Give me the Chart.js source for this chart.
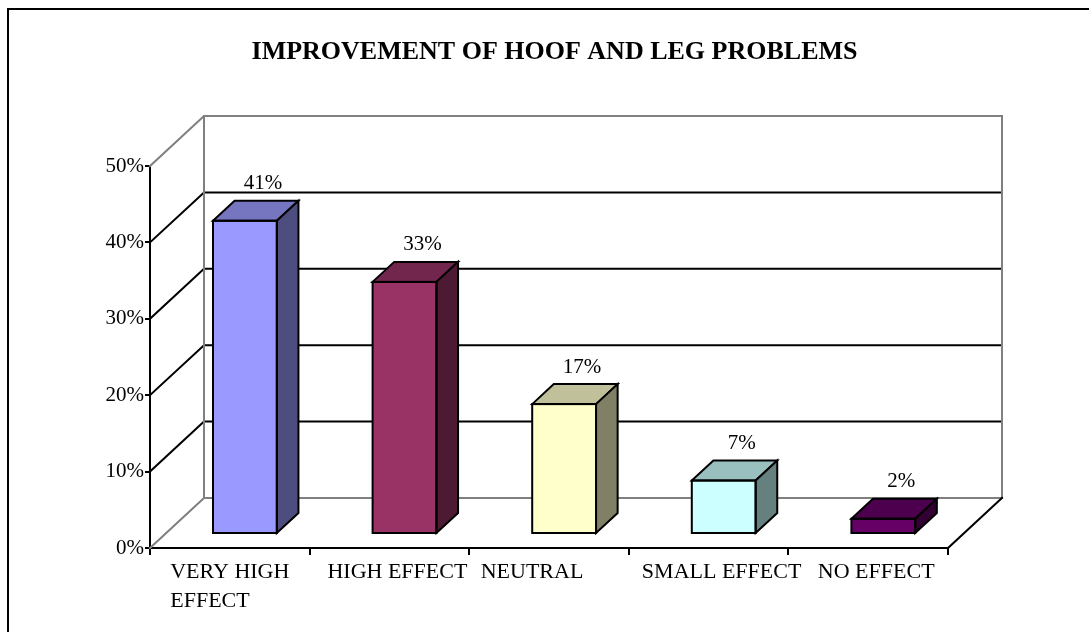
<!DOCTYPE html>
<html>
<head>
<meta charset="utf-8">
<script src="https://cdn.jsdelivr.net/npm/chart.js@4"></script>
<style>
  html, body { margin: 0; padding: 0; background: #fff; }
  #wrap { width: 1089px; height: 632px; position: relative; }
</style>
</head>
<body>
<div id="wrap"><canvas id="chart" width="1089" height="632"></canvas></div>
<script>
// Survey answers and their shares (percent)
const categories = [['VERY HIGH', 'EFFECT'], 'HIGH EFFECT', 'NEUTRAL', 'SMALL EFFECT', 'NO EFFECT'];
const shares = [41, 33, 17, 7, 2];
const valueTicks = [0, 10, 20, 30, 40, 50];

// Face colours of each box: front, top, right side
const frontColors = ['#9999FF', '#993366', '#FFFFCC', '#CCFFFF', '#660066'];
const topColors   = ['#7575C0', '#73264D', '#C0C09A', '#9ABFBF', '#4D004D'];
const sideColors  = ['#4D4D80', '#4D1A33', '#808066', '#668080', '#330033'];

// Horizontal nudge of each category caption (px)
const captionNudge = [0, 8, -17, 13, 8];

const SERIF = "'Liberation Serif', 'Times New Roman', serif";

// Depth of the 3D box (pixels the back wall is shifted from the front plane)
const DEPTH_X = 54, DEPTH_Y = -50;
const BAR_FRONT = 0.28;   // where the bar front sits inside the depth
const BAR_DEPTH = 0.40;   // how deep each bar is

const pseudo3d = {
  id: 'pseudo3d',
  beforeDraw(chart) {
    const ctx = chart.ctx;
    ctx.save();
    ctx.strokeStyle = '#000';
    ctx.lineWidth = 2;
    ctx.beginPath();
    ctx.moveTo(8, chart.height);
    ctx.lineTo(8, 9);
    ctx.lineTo(chart.width, 9);
    ctx.stroke();
    ctx.restore();
  },
  beforeDatasetsDraw(chart) {
    const { ctx, chartArea: a, scales: { y } } = chart;
    ctx.save();
    ctx.lineWidth = 2;
    ctx.lineCap = 'square';
    // side wall diagonals and back wall gridlines
    valueTicks.forEach((v, i) => {
      const py = y.getPixelForValue(v);
      const edge = i === 0 || i === valueTicks.length - 1;
      ctx.strokeStyle = edge ? '#808080' : '#000';
      ctx.beginPath();
      ctx.moveTo(a.left, py);
      ctx.lineTo(a.left + DEPTH_X, py + DEPTH_Y);
      ctx.lineTo(a.right + DEPTH_X, py + DEPTH_Y);
      ctx.stroke();
    });
    // back wall vertical edges
    ctx.strokeStyle = '#808080';
    const top = y.getPixelForValue(valueTicks[valueTicks.length - 1]) + DEPTH_Y;
    const bot = y.getPixelForValue(0) + DEPTH_Y;
    [a.left + DEPTH_X, a.right + DEPTH_X].forEach(px => {
      ctx.beginPath();
      ctx.moveTo(px, top);
      ctx.lineTo(px, bot);
      ctx.stroke();
    });
    // floor right edge
    ctx.strokeStyle = '#000';
    ctx.beginPath();
    ctx.moveTo(a.right, y.getPixelForValue(0));
    ctx.lineTo(a.right + DEPTH_X, y.getPixelForValue(0) + DEPTH_Y);
    ctx.stroke();
    ctx.restore();

    // bars sit partway into the depth
    ctx.save();
    ctx.translate(DEPTH_X * BAR_FRONT, DEPTH_Y * BAR_FRONT);
  },
  afterDatasetsDraw(chart) {
    const ctx = chart.ctx;
    const meta = chart.getDatasetMeta(0);
    const dx = DEPTH_X * BAR_DEPTH, dy = DEPTH_Y * BAR_DEPTH;
    ctx.lineWidth = 2;
    ctx.lineJoin = 'miter';
    ctx.strokeStyle = '#000';
    meta.data.forEach((bar, i) => {
      const { x, y, base, width } = bar.getProps(['x', 'y', 'base', 'width'], true);
      const x0 = x - width / 2, x1 = x + width / 2;
      // top face
      ctx.fillStyle = topColors[i];
      ctx.beginPath();
      ctx.moveTo(x0, y);
      ctx.lineTo(x0 + dx, y + dy);
      ctx.lineTo(x1 + dx, y + dy);
      ctx.lineTo(x1, y);
      ctx.closePath();
      ctx.fill();
      ctx.stroke();
      // right side face
      ctx.fillStyle = sideColors[i];
      ctx.beginPath();
      ctx.moveTo(x1, y);
      ctx.lineTo(x1 + dx, y + dy);
      ctx.lineTo(x1 + dx, base + dy);
      ctx.lineTo(x1, base);
      ctx.closePath();
      ctx.fill();
      ctx.stroke();
      // front outline
      ctx.strokeRect(x0, y, width, base - y);
      // value label
      ctx.fillStyle = '#000';
      ctx.font = '21px ' + SERIF;
      ctx.textAlign = 'center';
      ctx.textBaseline = 'middle';
      ctx.fillText(shares[i] + '%', x + 18, y + dy - 17);
    });
    ctx.restore();
  },
  afterDraw(chart) {
    // category captions under the floor: wrapped captions are a left-aligned block
    const { ctx, scales: { x } } = chart;
    const baseY = x.top + 24;
    const lineGap = 29;
    ctx.save();
    ctx.fillStyle = '#000';
    ctx.font = '22px ' + SERIF;
    ctx.textBaseline = 'middle';
    categories.forEach((cat, i) => {
      const px = x.getPixelForTick(i) + captionNudge[i];
      if (Array.isArray(cat)) {
        const w = Math.max(...cat.map(s => ctx.measureText(s).width));
        ctx.textAlign = 'left';
        cat.forEach((s, k) => ctx.fillText(s, px - w / 2, baseY + k * lineGap));
      } else {
        ctx.textAlign = 'center';
        ctx.fillText(cat, px, baseY);
      }
    });
    ctx.restore();
  }
};

new Chart(document.getElementById('chart'), {
  type: 'bar',
  data: {
    labels: categories,
    datasets: [{
      data: shares,
      backgroundColor: frontColors,
      borderWidth: 0,
      categoryPercentage: 1,
      barPercentage: 0.4,
      clip: false
    }]
  },
  options: {
    responsive: false,
    animation: false,
    devicePixelRatio: 1,
    layout: { padding: { left: 20, right: 0, top: 0, bottom: 0 } },
    plugins: {
      legend: { display: false },
      tooltip: { enabled: false },
      title: {
        display: true,
        text: 'IMPROVEMENT OF HOOF AND LEG PROBLEMS',
        color: '#000',
        font: { family: SERIF, size: 26, weight: 'bold', lineHeight: 1.2 },
        padding: { top: 36.4, bottom: 98.4 }
      }
    },
    scales: {
      x: {
        grid: { offset: true, drawOnChartArea: false, color: '#000', lineWidth: 2, tickLength: 7 },
        border: { color: '#000', width: 2 },
        ticks: { display: false, autoSkip: false },
        afterFit(s) { s.height = 84; }
      },
      y: {
        min: 0,
        max: 50,
        grid: { drawOnChartArea: false, color: '#000', lineWidth: 2, tickLength: 5 },
        border: { color: '#000', width: 2 },
        ticks: {
          stepSize: 10,
          color: '#000',
          font: { family: SERIF, size: 21 },
          padding: 1,
          callback: v => v + '%'
        },
        afterFit(s) { s.width = 130; }
      },
      yRight: {
        position: 'right',
        min: 0,
        max: 50,
        grid: { display: false },
        border: { display: false },
        ticks: { display: false },
        afterFit(s) { s.width = 141; }
      }
    }
  },
  plugins: [pseudo3d]
});
</script>
</body>
</html>
